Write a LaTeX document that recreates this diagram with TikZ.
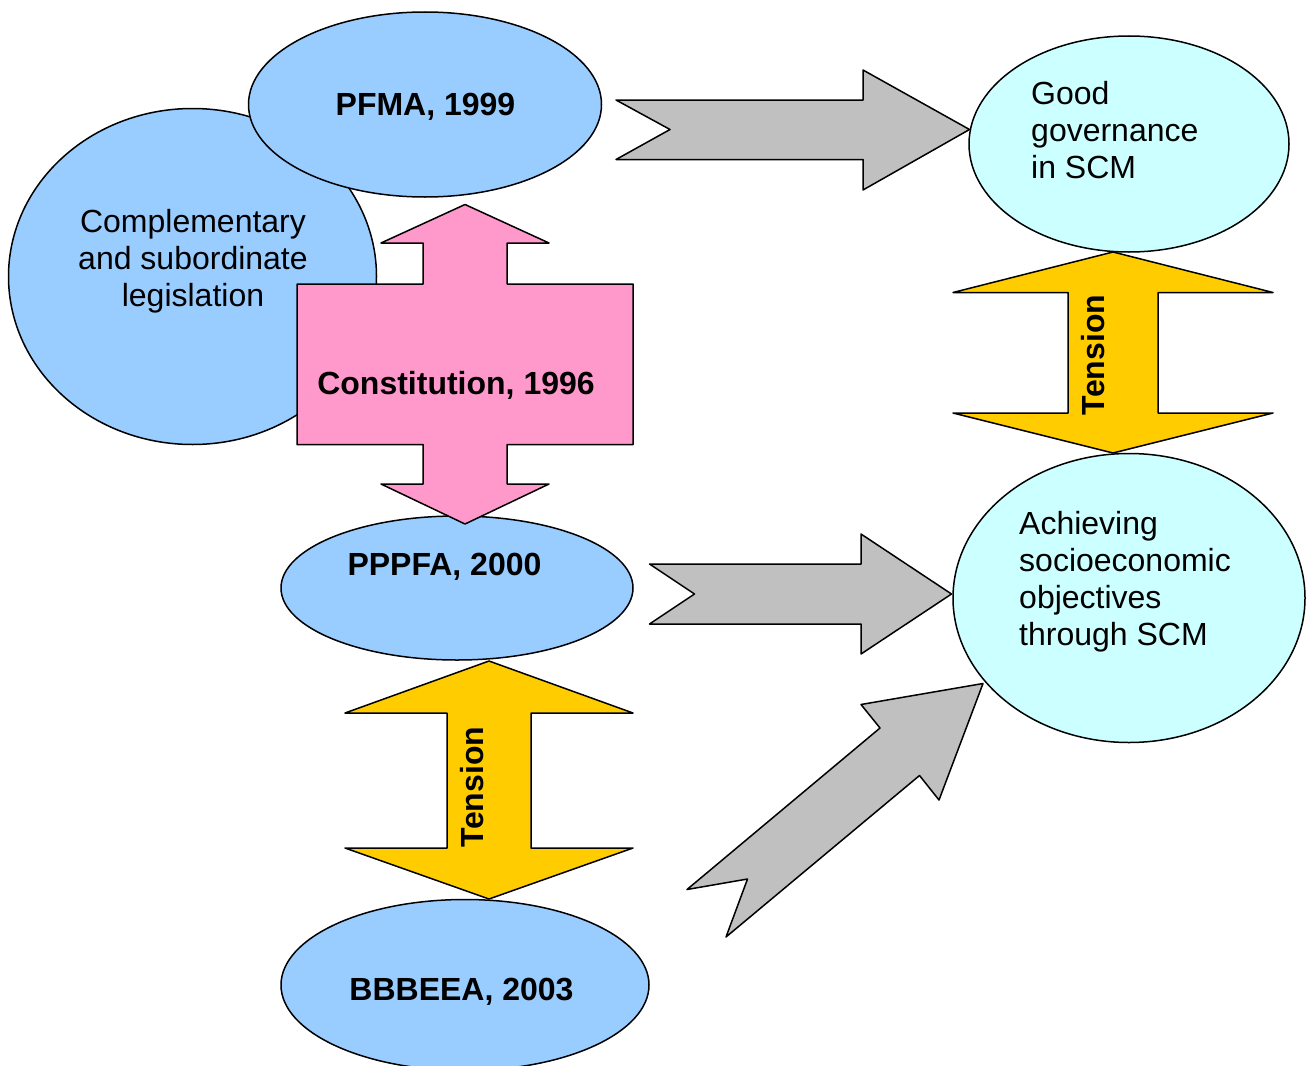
\documentclass[tikz,border=0pt]{standalone}
\usepackage{fontspec}
\setmainfont{Liberation Sans}
\usetikzlibrary{shapes.geometric}
\definecolor{lawblue}{HTML}{99CCFF}
\definecolor{goalcyan}{HTML}{CCFFFF}
\definecolor{constpink}{HTML}{FF99CC}
\definecolor{tensionyellow}{HTML}{FFCC00}
\definecolor{flowgray}{HTML}{C0C0C0}

\begin{document}
\begin{tikzpicture}[x=1pt,y=-1pt,
  outline/.style={draw=black, line width=1.5pt, line join=round},
  law/.style={outline, ellipse, fill=lawblue, inner sep=0pt},
  goal/.style={outline, ellipse, fill=goalcyan, inner sep=0pt},
  body/.style={font=\fontsize{32}{37}\selectfont, inner sep=0pt},
  bodybold/.style={font=\fontsize{32}{37}\selectfont\bfseries, inner sep=0pt},
  flowarrow/.style={outline, fill=flowgray},
  strainarrow/.style={outline, fill=tensionyellow},
  constarrow/.style={outline, fill=constpink},
]
\useasboundingbox (0,0) rectangle (1311,1065);

% legislation ellipses
\node[law, minimum width=368pt, minimum height=336pt] (compl) at (192.5,276.5) {};
\node[law, minimum width=353pt, minimum height=185pt] (pfma) at (425,104.5) {};
\node[law, minimum width=352pt, minimum height=144pt] (pppfa) at (457,588) {};
\node[law, minimum width=368pt, minimum height=171pt] (bbbeea) at (465,985) {};

% goal ellipses
\node[goal, minimum width=320pt, minimum height=216pt] (gov) at (1129,144) {};
\node[goal, minimum width=352pt, minimum height=289pt] (socio) at (1129,598) {};

% constitution: cross-shaped double arrow
\draw[constarrow] (465,204.5) -- (549,243) -- (507,243) -- (507,284) -- (633,284)
  -- (633,444.5) -- (507,444.5) -- (507,484) -- (549,484) -- (465,524)
  -- (381,484) -- (423,484) -- (423,444.5) -- (297,444.5) -- (297,284)
  -- (423,284) -- (423,243) -- (381,243) -- cycle;

% grey notched arrows towards the goals
\draw[flowarrow] (616,100) -- (863,100) -- (863,70) -- (969.5,129.5) -- (863,190)
  -- (863,159.5) -- (616,159.5) -- (670,129.5) -- cycle;
\draw[flowarrow] (649.5,564) -- (861,564) -- (861,534) -- (951.5,594) -- (861,654)
  -- (861,624) -- (649.5,624) -- (694.5,594) -- cycle;
\draw[flowarrow] (983,683.5) -- (939,800) -- (919.5,775.5) -- (726,937) -- (747.5,879)
  -- (687,889.5) -- (880,728) -- (861,704.5) -- cycle;

% tension double arrows
\draw[strainarrow] (1113,252) -- (1273,292.5) -- (1158,292.5) -- (1158,413) -- (1273,413)
  -- (1113,453) -- (953,413) -- (1068,413) -- (1068,292.5) -- (953,292.5) -- cycle;
\draw[strainarrow] (489,661) -- (633,713) -- (531,713) -- (531,848) -- (633,848)
  -- (489,899) -- (345,848) -- (447,848) -- (447,713) -- (345,713) -- cycle;

% labels
\node[body, align=center, anchor=north] (compltext) at (193,209.5)
  {Complementary\\and subordinate\\legislation};
\node[bodybold, anchor=base] (pfmatext) at (425.5,115) {PFMA, 1999};
\node[bodybold, anchor=base] (consttext) at (456,394) {Constitution, 1996};
\node[bodybold, anchor=base] (pppfatext) at (444.5,575.5) {PPPFA, 2000};
\node[bodybold, anchor=base] (bbbeeatext) at (461.5,1000) {BBBEEA, 2003};
\node[body, align=left, anchor=north west] (govtext) at (1031,81)
  {Good\\governance\\in SCM};
\node[body, align=left, anchor=north west] (sociotext) at (1019,511.5)
  {Achieving\\socioeconomic\\objectives\\through SCM};
\node[bodybold, rotate=90] (tensionright) at (1093,355) {Tension};
\node[bodybold, rotate=90] (tensionleft) at (472.5,787) {Tension};
\end{tikzpicture}
\end{document}
